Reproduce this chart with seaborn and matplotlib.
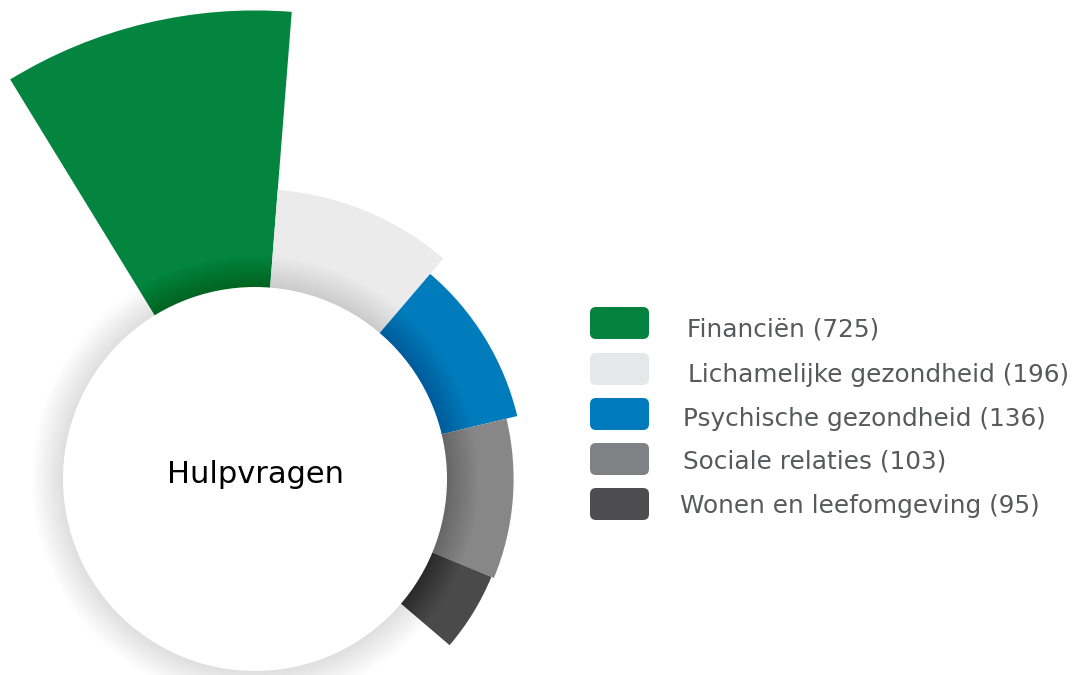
import numpy as np
import matplotlib
matplotlib.use("Agg")
import matplotlib.pyplot as plt
from matplotlib.patches import Circle, FancyBboxPatch
import seaborn as sns

# ---- data ----
categories = ["Financiën", "Lichamelijke gezondheid", "Psychische gezondheid",
              "Sociale relaties", "Wonen en leefomgeving"]
values = [725, 196, 136, 103, 95]
center_label = "Hulpvragen"

# ---- styles ----
bar_colors = ["#03843F", "#EBEBEB", "#007BBB", "#878787", "#4A4A4A"]
swatch_colors = ["#04823E", "#E6E7E8", "#0079BD", "#808184", "#4D4D4F"]

sns.set_theme(style="white")
plt.rcParams['font.family'] = ['DejaVu Sans']

W, H = 1082, 675
fig = plt.figure(figsize=(W / 100, H / 100), dpi=100)
fig.patch.set_facecolor("white")

# polar axes placed so its centre sits at pixel (255, 479)
cx, cy = 255, 479
R_ax = 477
ax = fig.add_axes([(cx - R_ax) / W, (H - cy - R_ax) / H, 2 * R_ax / W, 2 * R_ax / H],
                  projection='polar')
r_min, r_max = -663, 750
ax.set_ylim(r_min, r_max)
ax.set_axis_off()

start = 121.5
spans = [36, 36, 36, 36, 18]
edges = start - np.concatenate([[0], np.cumsum(spans)])
centers = np.deg2rad((edges[:-1] + edges[1:]) / 2)
widths = np.deg2rad(spans)
vals = np.array(values, dtype=float)
ax.bar(centers, vals - r_min, bottom=r_min, width=widths, color=bar_colors,
       linewidth=0, align='center', zorder=1)

# soft shadow around the centre disc
circle_px = 192
n_rings = 32
for k in range(n_rings, 0, -1):
    ax.add_patch(Circle((0.5, 0.5), (circle_px + k) / (2 * R_ax), transform=ax.transAxes,
                        facecolor="black", edgecolor="none", alpha=0.0055, zorder=2))
ax.add_patch(Circle((0.5, 0.5), circle_px / (2 * R_ax), transform=ax.transAxes,
                    facecolor="white", edgecolor="none", zorder=3))

# overlay in pixel coordinates for text & legend
ov = fig.add_axes([0, 0, 1, 1])
ov.set_xlim(0, W)
ov.set_ylim(H, 0)
ov.axis('off')
ov.patch.set_alpha(0)

ov.text(cx + 0.5, 483, center_label, ha='center', va='baseline', fontsize=22,
        color='black')

sw_top = [307, 353, 398, 443, 488]
text_x = [687, 688, 683, 683, 680]
baselines = [337, 382, 426, 468, 513]
for i, (cat, v) in enumerate(zip(categories, values)):
    ov.add_patch(FancyBboxPatch((590, sw_top[i]), 59, 32,
                                boxstyle="round,pad=0,rounding_size=6",
                                facecolor=swatch_colors[i], edgecolor='none'))
    ov.text(text_x[i], baselines[i], f"{cat} ({v})", ha='left', va='baseline',
            fontsize=17.8, color="#58595B")

fig.savefig("out.png", dpi=100, facecolor="white")
